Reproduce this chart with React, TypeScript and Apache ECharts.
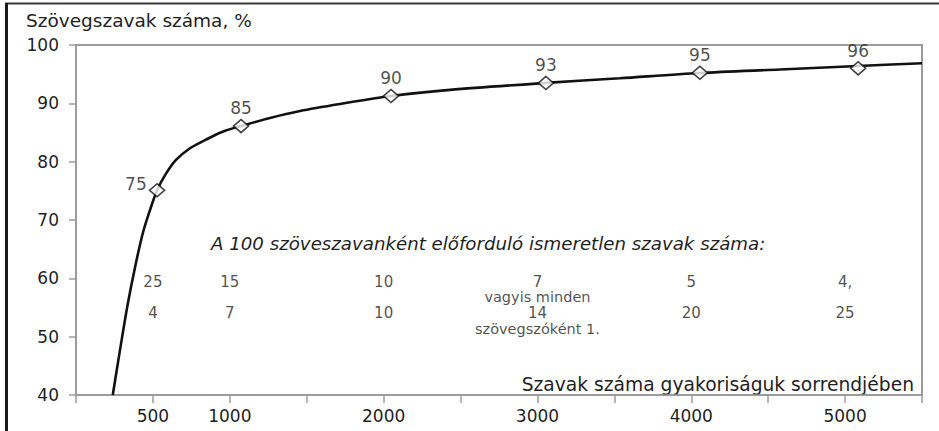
import React, { useEffect, useRef } from "react";
import * as echarts from "echarts";

// Axis tick labels shown on the x axis
const xTickLabels = [500, 1000, 2000, 3000, 4000, 5000];

// Curve (words ranked by frequency -> % of text words covered)
const curveX = [239, 286, 335, 387, 436, 481, 527, 579, 650, 741, 839, 949, 1073, 1261, 1456, 1716, 2048, 2431, 3055, 3536, 4056, 4576, 5083, 5500];
const curveY = [40, 47.7, 55.4, 62.3, 67.9, 71.7, 75.1, 77.7, 80.3, 82.3, 83.7, 85.1, 86.1, 87.5, 88.7, 89.9, 91.26, 92.3, 93.5, 94.3, 95.2, 95.8, 96.4, 96.86];

// Diamond markers and their labels
const markerX = [527, 1073, 2048, 3055, 4056, 5085];
const markerY = [75.1, 86.1, 91.26, 93.5, 95.25, 96.0];
const markerLabels = ["75", "85", "90", "93", "95", "96"];

// Unknown words per 100 text words, and "every n-th word"
const rowX = [500, 1000, 2000, 3000, 4000, 5000];
const unknownPer100 = ["25", "15", "10", "7", "5", "4,"];
const everyNthWord = ["4", "7", "10", "14", "20", "25"];
const noteLines = ["vagyis minden", "szövegszóként 1."];

const FONT = "DejaVu Sans";
const TXT = "#1f1f1f";

export default function App() {
  const ref = useRef<HTMLDivElement>(null);

  useEffect(() => {
    document.body.style.margin = "0";
    if (!ref.current) return;
    const chart = echarts.init(ref.current, undefined, { renderer: "svg" });

    const ROW1 = 59.4;
    const ROW2 = 54.1;
    const NOTE1 = 56.75;
    const NOTE2 = 51.3;

    const smallLabel = (size: number) => ({
      show: true,
      position: "inside",
      fontFamily: FONT,
      fontSize: size,
      lineHeight: size - 2,
      color: TXT,
      formatter: (p: any) => p.name,
    });

    const option: any = {
      animation: false,
      backgroundColor: "#ffffff",
      grid: {
        left: 76,
        right: 17,
        top: 45,
        bottom: 36,
        show: true,
        borderColor: "#9c9c9c",
        borderWidth: 2,
      },
      xAxis: {
        type: "value",
        min: 0,
        max: 5500,
        interval: 500,
        splitLine: { show: false },
        axisLine: { show: true, lineStyle: { color: "#9c9c9c", width: 1.5 } },
        axisTick: { show: true, length: 8, lineStyle: { color: "#9c9c9c", width: 1.5 } },
        axisLabel: {
          margin: 12,
          fontFamily: FONT,
          fontSize: 17,
          color: TXT,
          formatter: (v: number) => (xTickLabels.indexOf(v) >= 0 ? String(v) : ""),
        },
      },
      yAxis: {
        type: "value",
        min: 40,
        max: 100,
        interval: 10,
        splitLine: { show: false },
        axisLine: { show: true, lineStyle: { color: "#9c9c9c", width: 1.5 } },
        axisTick: { show: true, length: 7, lineStyle: { color: "#9c9c9c", width: 1.5 } },
        axisLabel: { margin: 17, fontFamily: FONT, fontSize: 17, color: TXT },
      },
      series: [
        {
          type: "line",
          data: curveX.map((x, i) => [x, curveY[i]]),
          smooth: 0.3,
          showSymbol: false,
          symbol: "none",
          lineStyle: { color: "#111111", width: 2.6 },
          z: 2,
        },
        {
          type: "scatter",
          data: markerX.map((x, i) => ({
            value: [x, markerY[i]],
            label:
              i === 0
                ? { position: "left", distance: 2, offset: [0, -6] }
                : { position: "top", distance: 2 },
          })),
          symbol: "diamond",
          symbolSize: [15, 13],
          itemStyle: { color: "#ffffff", borderColor: "#111111", borderWidth: 1.6 },
          label: {
            show: true,
            fontFamily: FONT,
            fontSize: 17,
            color: TXT,
            formatter: (p: any) => markerLabels[p.dataIndex],
          },
          z: 3,
        },
        {
          type: "scatter",
          silent: true,
          data: [
            ...rowX.map((x, i) => ({ value: [x, ROW1], name: unknownPer100[i] })),
            ...rowX.map((x, i) => ({ value: [x, ROW2], name: everyNthWord[i] })),
          ],
          symbolSize: 1,
          itemStyle: { color: "rgba(0,0,0,0)" },
          label: smallLabel(15),
          z: 4,
        },
        {
          type: "scatter",
          silent: true,
          data: [
            { value: [rowX[3], NOTE1], name: noteLines[0] },
            { value: [rowX[3], NOTE2], name: noteLines[1] },
          ],
          symbolSize: 1,
          itemStyle: { color: "rgba(0,0,0,0)" },
          label: smallLabel(14.5),
          z: 4,
        },
      ],
      graphic: [
        {
          type: "line",
          shape: { x1: 5, y1: 3.5, x2: 939, y2: 3.5 },
          style: { stroke: "#3a3a3a", lineWidth: 2 },
          silent: true,
        },
        {
          type: "line",
          shape: { x1: 6.5, y1: 3, x2: 6.5, y2: 431 },
          style: { stroke: "#1a1a1a", lineWidth: 3 },
          silent: true,
        },
        {
          type: "text",
          x: 26,
          y: 20.5,
          style: {
            text: "Szövegszavak száma, %",
            fontFamily: FONT,
            fontSize: 18.5,
            fill: TXT,
            textVerticalAlign: "middle",
          },
        },
        {
          type: "text",
          x: 211,
          y: 243,
          style: {
            text: "A 100 szöveszavanként előforduló ismeretlen szavak száma:",
            fontFamily: FONT,
            fontStyle: "italic",
            fontSize: 18.2,
            fill: TXT,
            textVerticalAlign: "middle",
          },
        },
        {
          type: "text",
          x: 914,
          y: 384,
          style: {
            text: "Szavak száma gyakoriságuk sorrendjében",
            fontFamily: FONT,
            fontSize: 18.7,
            fill: TXT,
            textAlign: "right",
            textVerticalAlign: "middle",
          },
        },
      ],
    };

    chart.setOption(option);
    return () => chart.dispose();
  }, []);

  return <div ref={ref} style={{ width: 939, height: 431 }} />;
}
